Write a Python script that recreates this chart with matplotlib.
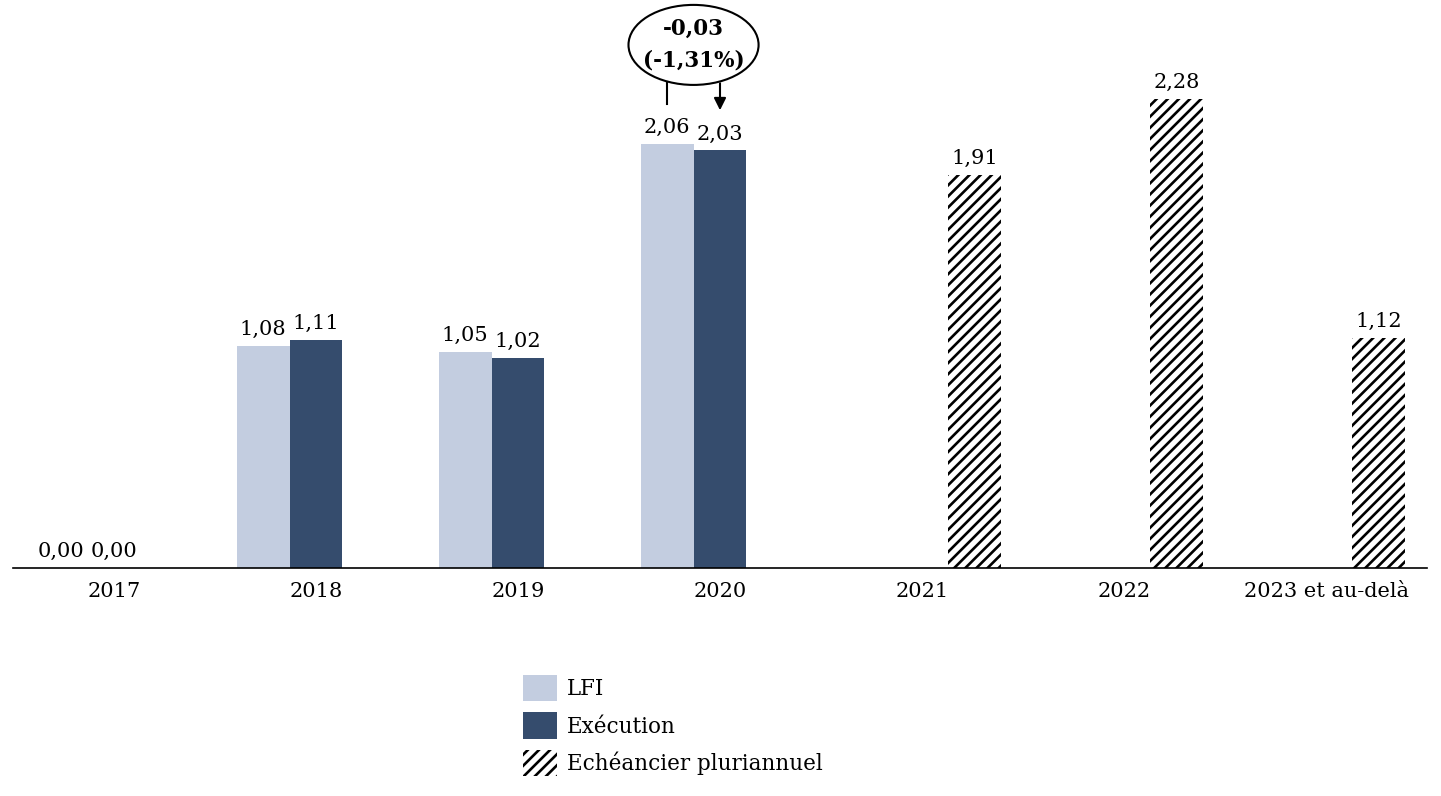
import matplotlib
matplotlib.use("Agg")
import matplotlib.pyplot as plt
from matplotlib.patches import Ellipse, Patch
import numpy as np

categories = ["2017", "2018", "2019", "2020", "2021", "2022", "2023 et au-delà"]
lfi = [0.00, 1.08, 1.05, 2.06, None, None, None]
execution = [0.00, 1.11, 1.02, 2.03, None, None, None]
echeancier = [None, None, None, None, 1.91, 2.28, 1.12]
ecart_label = "-0,03\n(-1,31%)"

plt.rcParams['font.family'] = ['DejaVu Serif']
plt.rcParams['hatch.linewidth'] = 1.9

fig = plt.figure(figsize=(14.41, 7.96), dpi=100)
ax = fig.add_axes([13/1441, (796-568)/796, (1427-13)/1441, 568/796])

x = np.arange(len(categories))
w = 0.262
c_lfi = "#c3cde0"
c_exe = "#354c6d"
fs = 15

def fmt(v):
    return f"{v:.2f}".replace(".", ",")

for i in range(len(categories)):
    if lfi[i] is not None:
        ax.bar(x[i] - w, lfi[i], w, color=c_lfi, linewidth=0)
        ax.annotate(fmt(lfi[i]), (x[i] - w, lfi[i]), xytext=(0, 5), textcoords="offset points",
                    ha="center", va="bottom", fontsize=fs)
    if execution[i] is not None:
        ax.bar(x[i], execution[i], w, color=c_exe, linewidth=0)
        ax.annotate(fmt(execution[i]), (x[i], execution[i]), xytext=(0, 5), textcoords="offset points",
                    ha="center", va="bottom", fontsize=fs)
    if echeancier[i] is not None:
        ax.bar(x[i] + w, echeancier[i], w, color="white", edgecolor="black", hatch="///", linewidth=0)
        ax.annotate(fmt(echeancier[i]), (x[i] + w, echeancier[i]), xytext=(0, 5), textcoords="offset points",
                    ha="center", va="bottom", fontsize=fs)

ax.set_xlim(-0.5, len(categories) - 0.5)
ax.set_ylim(0, 568/205.7)
ax.set_xticks(x)
ax.set_xticklabels(categories, fontsize=fs)
ax.tick_params(axis="x", length=0, pad=10)
ax.set_yticks([])
for s in ["top", "right", "left"]:
    ax.spines[s].set_visible(False)
ax.spines["bottom"].set_linewidth(1.2)

# annotation for 2020
i = 3
ex_c = x[i] - w/2
ell = Ellipse((ex_c, 2.543), 0.644, 0.389, facecolor="white", edgecolor="black", linewidth=1.5)
ax.add_patch(ell)
ax.text(ex_c, 2.545, ecart_label, ha="center", va="center", fontsize=15.5, fontweight="bold", linespacing=1.55)
ax.plot([x[i] - w, x[i] - w], [2.365, 2.256], color="black", lw=1.5)
ax.annotate("", xy=(x[i], 2.212), xytext=(x[i], 2.37),
            arrowprops=dict(arrowstyle="-|>", color="black", lw=1.5, mutation_scale=18))

handles = [Patch(facecolor=c_lfi, linewidth=0),
           Patch(facecolor=c_exe, linewidth=0),
           Patch(facecolor="white", edgecolor="black", hatch="///", linewidth=0)]
fig.legend(handles, ["LFI", "Exécution", "Echéancier pluriannuel"], loc="upper left",
           bbox_to_anchor=(523/1441, 1 - 675/796), frameon=False, fontsize=15.5,
           handlelength=1.58, handleheight=1.5, handletextpad=0.45, labelspacing=0.52,
           borderpad=0, borderaxespad=0)

fig.savefig("out.png", dpi=100)
